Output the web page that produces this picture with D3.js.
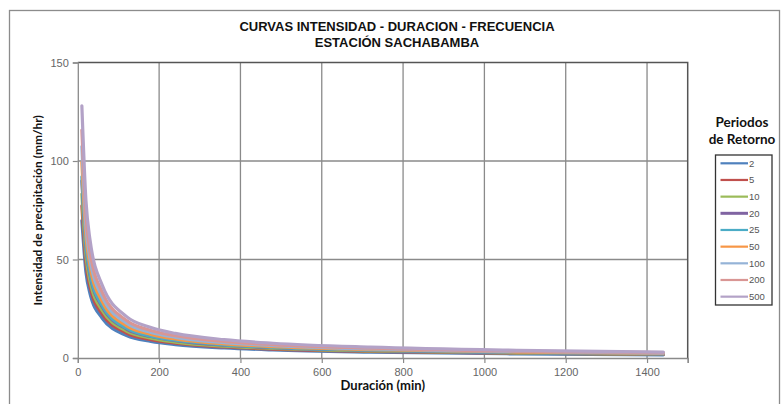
<!DOCTYPE html>
<html>
<head>
<meta charset="utf-8">
<script src="https://cdn.jsdelivr.net/npm/d3@7"></script>
<style>
  body { margin: 0; background: #fff; }
  svg { display: block; }
</style>
</head>
<body>
<div id="chart"></div>
<script>
// duraciones (min)
const durations = [10, 20, 30, 60, 120, 180, 240, 360, 480, 720, 1080, 1440];

// periodos de retorno (años)
const periods = ["2", "5", "10", "20", "25", "50", "100", "200", "500"];

// intensidades (mm/hr)
const i2   = [69.8, 43.6, 32.7, 20.2, 11.4, 8.4, 6.8, 5.1, 4.1, 3.0, 2.1, 1.6];
const i5   = [77.2, 48.2, 36.2, 22.3, 12.7, 9.3, 7.5, 5.6, 4.5, 3.3, 2.4, 1.8];
const i10  = [83.2, 52.0, 39.0, 24.1, 13.7, 10.1, 8.1, 6.0, 4.9, 3.6, 2.5, 2.0];
const i20  = [89.9, 56.2, 42.1, 26.0, 14.7, 10.9, 8.8, 6.5, 5.3, 3.9, 2.7, 2.1];
const i25  = [92.0, 57.5, 43.1, 26.6, 15.1, 11.1, 9.0, 6.7, 5.4, 4.0, 2.8, 2.2];
const i50  = [99.3, 62.1, 46.6, 28.7, 16.3, 12.0, 9.7, 7.2, 5.8, 4.3, 3.0, 2.3];
const i100 = [107.3, 67.0, 50.3, 31.0, 17.6, 13.0, 10.5, 7.8, 6.3, 4.6, 3.3, 2.5];
const i200 = [115.7, 72.3, 54.2, 33.4, 19.0, 14.0, 11.3, 8.4, 6.8, 5.0, 3.5, 2.7];
const i500 = [128.0, 80.0, 60.0, 37.0, 21.0, 15.5, 12.5, 9.3, 7.5, 5.5, 3.9, 3.0];

const xTicks = [0, 200, 400, 600, 800, 1000, 1200, 1400];
const yTicks = [0, 50, 100, 150];

const series = [i2, i5, i10, i20, i25, i50, i100, i200, i500];
const colors = ["#4F81BD", "#C0504D", "#9BBB59", "#8064A2", "#4BACC6",
                "#F79646", "#95B3D7", "#D99694", "#B3A2C7"];

const W = 781, H = 404;
const plot = { left: 77.8, top: 62.5, right: 687.7, bottom: 358 };

const svg = d3.select("#chart").append("svg")
    .attr("width", W)
    .attr("height", H);

// marco del grafico
svg.append("rect")
    .attr("x", 9.5).attr("y", 10.5)
    .attr("width", 770).attr("height", 410)
    .attr("fill", "none")
    .attr("stroke", "#8c8c8c")
    .attr("stroke-width", 1.3);

const x = d3.scaleLinear().domain([0, 1500]).range([plot.left, plot.right]);
const y = d3.scaleLinear().domain([0, 150]).range([plot.bottom, plot.top]);

// grilla
svg.append("g")
    .selectAll("line.vg")
    .data(xTicks.filter(d => d > 0))
    .join("line")
    .attr("x1", d => x(d)).attr("x2", d => x(d))
    .attr("y1", plot.top).attr("y2", plot.bottom)
    .attr("stroke", "#8a8a8a").attr("stroke-width", 1.3);

svg.append("g")
    .selectAll("line.hg")
    .data(yTicks.filter(d => d > 0 && d < 150))
    .join("line")
    .attr("x1", plot.left).attr("x2", plot.right)
    .attr("y1", d => y(d)).attr("y2", d => y(d))
    .attr("stroke", "#8a8a8a").attr("stroke-width", 1.3);

// borde del area de trazado
svg.append("path")
    .attr("d", `M${plot.left},${plot.top}H${plot.right}V${plot.bottom}`)
    .attr("fill", "none")
    .attr("stroke", "#555")
    .attr("stroke-width", 1.5);

// ejes
const xAxis = svg.append("g")
    .attr("transform", `translate(0,${plot.bottom})`)
    .call(d3.axisBottom(x).tickValues(xTicks.concat([1500])).tickSize(5)
        .tickFormat(d => d == 1500 ? "" : d));
const yAxis = svg.append("g")
    .attr("transform", `translate(${plot.left},0)`)
    .call(d3.axisLeft(y).tickValues(yTicks).tickSize(5));

[xAxis, yAxis].forEach(a => {
    a.select(".domain").attr("stroke", "#8a8a8a").attr("stroke-width", 1.3);
    a.selectAll(".tick line").attr("stroke", "#8a8a8a").attr("stroke-width", 1.2);
    a.selectAll(".tick text")
        .attr("fill", "#666")
        .style("font-family", "'Liberation Sans', Arial, sans-serif")
        .style("font-size", "11px");
});
xAxis.selectAll(".tick text").attr("dy", "0.9em");
yAxis.selectAll(".tick text").attr("x", -9);

// curvas
const line = d3.line()
    .x((d, i) => x(durations[i]))
    .y(d => y(d))
    .curve(d3.curveMonotoneX);

svg.append("g")
    .selectAll("path")
    .data(series)
    .join("path")
    .attr("d", d => line(d))
    .attr("fill", "none")
    .attr("stroke", (d, i) => colors[i])
    .attr("stroke-width", 3.2)
    .attr("stroke-linejoin", "round")
    .attr("stroke-linecap", "round");

// titulos
const title = svg.append("text")
    .attr("text-anchor", "middle")
    .style("font-family", "'Liberation Sans', Arial, sans-serif")
    .style("font-weight", "bold")
    .style("font-size", "13px")
    .attr("fill", "#111");
title.append("tspan").attr("x", 397).attr("y", 31).text("CURVAS INTENSIDAD - DURACION - FRECUENCIA");
title.append("tspan").attr("x", 397).attr("y", 46.5).text("ESTACIÓN SACHABAMBA");

svg.append("text")
    .attr("x", (plot.left + plot.right) / 2)
    .attr("y", 390)
    .attr("text-anchor", "middle")
    .style("font-family", "Lato, 'Open Sans', sans-serif")
    .style("font-weight", "bold")
    .style("font-size", "13px")
    .attr("fill", "#111")
    .text("Duración (min)");

svg.append("text")
    .attr("transform", `translate(42,${(plot.top + plot.bottom) / 2}) rotate(-90)`)
    .attr("text-anchor", "middle")
    .style("font-family", "Lato, 'Open Sans', sans-serif")
    .style("font-weight", "bold")
    .style("font-size", "12px")
    .attr("fill", "#111")
    .text("Intensidad de precipitación (mm/hr)");

// leyenda
const legTitle = svg.append("text")
    .attr("text-anchor", "middle")
    .style("font-family", "Lato, 'Open Sans', sans-serif")
    .style("font-weight", "bold")
    .style("font-size", "13.5px")
    .attr("fill", "#111");
legTitle.append("tspan").attr("x", 742).attr("y", 127).text("Periodos");
legTitle.append("tspan").attr("x", 742).attr("y", 144).text("de Retorno");

svg.append("rect")
    .attr("x", 715.5).attr("y", 155)
    .attr("width", 56.5).attr("height", 150)
    .attr("fill", "#fff")
    .attr("stroke", "#333")
    .attr("stroke-width", 1.3);

const leg = svg.append("g")
    .selectAll("g")
    .data(periods)
    .join("g")
    .attr("transform", (d, i) => `translate(720.5,${163.3 + i * 16.67})`);
leg.append("line")
    .attr("x1", 0).attr("x2", 27.5)
    .attr("stroke", (d, i) => colors[i])
    .attr("stroke-width", (d, i) => i == 3 ? 3 : 2.2);
leg.append("text")
    .attr("x", 28.5).attr("dy", "0.35em")
    .style("font-family", "'Liberation Sans', Arial, sans-serif")
    .style("font-size", "9.5px")
    .attr("fill", "#555")
    .text(d => d);
</script>
</body>
</html>
